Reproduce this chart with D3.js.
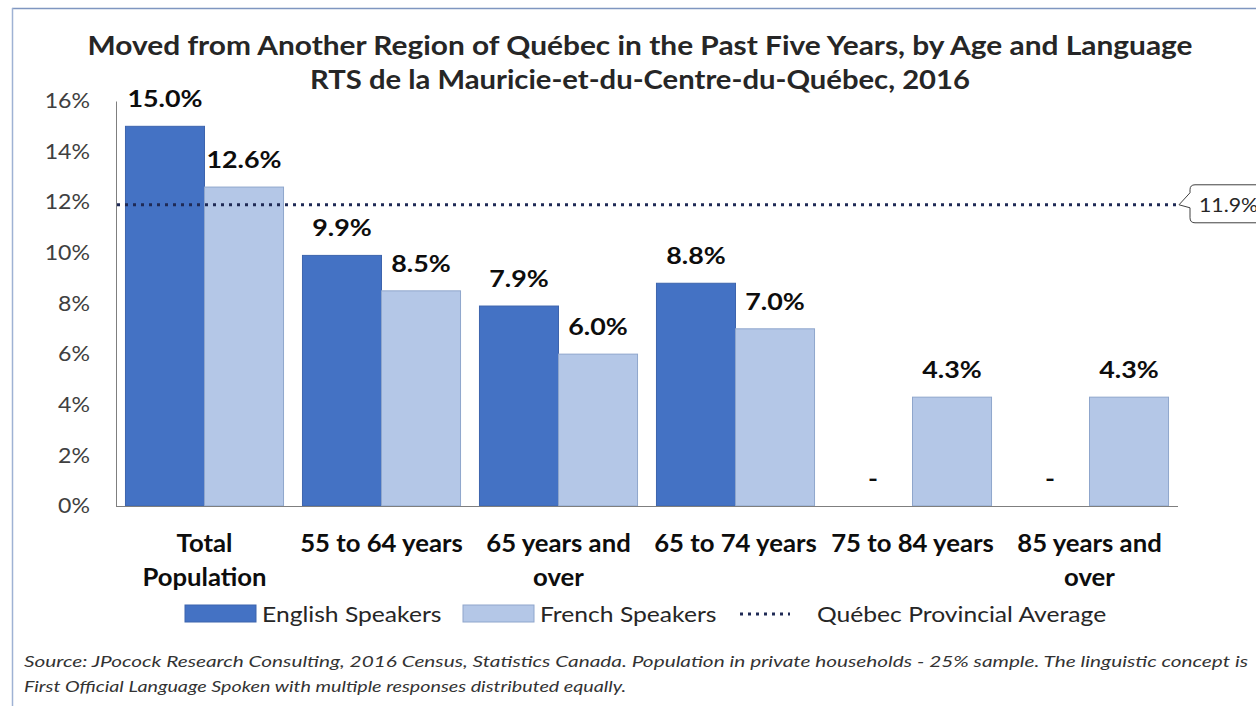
<!DOCTYPE html>
<html>
<head>
<meta charset="utf-8">
<script src="https://cdn.jsdelivr.net/npm/d3@7"></script>
<style>
  body { margin: 0; background: #fff; }
  svg { display: block; }
</style>
</head>
<body>
<svg id="chart" width="1256" height="706"></svg>
<script>
// chart values
let categories = ['Total Population', '55 to 64 years', '65 years and over', '65 to 74 years', '75 to 84 years', '85 years and over'];
let categoryLines = [['Total', 'Population'], ['55 to 64 years'], ['65 years and', 'over'], ['65 to 74 years'], ['75 to 84 years'], ['85 years and', 'over']];
let series = ['English Speakers', 'French Speakers'];
let english = [0.150, 0.099, 0.079, 0.088, null, null];
let french = [0.126, 0.085, 0.060, 0.070, 0.043, 0.043];
let provincialAvg = 0.119;
let yTicks = [0, 0.02, 0.04, 0.06, 0.08, 0.10, 0.12, 0.14, 0.16];

let svg = d3.select('#chart');
let font = 'Lato, "Open Sans", sans-serif';
let colors = ['#4472C4', '#B4C7E7'];
let strokes = ['#3d64ad', '#8fa6cc'];

// the source picture uses a wider face, so widen text a little
function stretch(sel, k) {
  sel.each(function() {
    let w = this.getComputedTextLength();
    d3.select(this).attr('textLength', w * k).attr('lengthAdjust', 'spacingAndGlyphs');
  });
}

// frame of the pasted picture
svg.append('line').attr('x1', 12).attr('x2', 1256).attr('y1', 8.5).attr('y2', 8.5)
  .attr('stroke', '#7f96c0').attr('stroke-width', 1.5);
svg.append('line').attr('x1', 12.5).attr('x2', 12.5).attr('y1', 8).attr('y2', 706)
  .attr('stroke', '#9fb2d4').attr('stroke-width', 1.5);

// title
let title = svg.append('g').style('font-family', font).style('font-weight', 'bold')
  .style('fill', '#262626').attr('text-anchor', 'middle');
title.append('text').attr('x', 640).attr('y', 55).style('font-size', '26px')
  .attr('textLength', 1105).attr('lengthAdjust', 'spacingAndGlyphs')
  .text('Moved from Another Region of Québec in the Past Five Years, by Age and Language');
title.append('text').attr('x', 640).attr('y', 89).style('font-size', '26px')
  .attr('textLength', 660).attr('lengthAdjust', 'spacingAndGlyphs')
  .text('RTS de la Mauricie-et-du-Centre-du-Québec, 2016');

let x0 = d3.scaleBand().domain(categories).range([116, 1178])
  .paddingInner(0.107).paddingOuter(0.0535);
let x1 = d3.scaleBand().domain(series).range([0, x0.bandwidth()]);
let y = d3.scaleLinear().domain([0, 0.16]).range([506, 101]);

// y axis
let yAxis = svg.append('g').attr('transform', 'translate(116,0)')
  .call(d3.axisLeft(y).tickValues(yTicks).tickFormat(d3.format('.0%')).tickSize(0).tickPadding(26));
yAxis.select('.domain').attr('stroke', '#7f7f7f');
yAxis.selectAll('text').style('font-family', font).style('font-size', '21px').style('fill', '#404040')
  .call(stretch, 1.1);

let rows = categories.map(function(c, i) {
  return { cat: c, values: [english[i], french[i]] };
});

let groups = svg.selectAll('.grp').data(rows).enter().append('g')
  .attr('class', 'grp')
  .attr('transform', function(d) { return 'translate(' + x0(d.cat) + ',0)'; });

groups.selectAll('rect').data(function(d) {
  return d.values.map(function(v, k) { return { s: series[k], k: k, v: v }; });
}).enter().filter(function(d) { return d.v != null; }).append('rect')
  .attr('x', function(d) { return x1(d.s); })
  .attr('width', x1.bandwidth())
  .attr('y', function(d) { return y(d.v); })
  .attr('height', function(d) { return y(0) - y(d.v); })
  .attr('fill', function(d) { return colors[d.k]; })
  .attr('stroke', function(d) { return strokes[d.k]; })
  .attr('stroke-width', 1);

groups.selectAll('.lbl').data(function(d) {
  return d.values.map(function(v, k) { return { s: series[k], k: k, v: v }; });
}).enter().append('text')
  .attr('class', 'lbl')
  .attr('x', function(d) { return x1(d.s) + x1.bandwidth() / 2; })
  .attr('y', function(d) { return y(d.v == null ? 0 : d.v) - 19; })
  .attr('text-anchor', 'middle')
  .style('font-family', font).style('font-weight', 'bold').style('font-size', '22px')
  .style('fill', '#0d0d0d')
  .text(function(d) { return d.v == null ? '-' : d3.format('.1%')(d.v); })
  .call(stretch, 1.22);

// x axis baseline
svg.append('line').attr('x1', 116).attr('x2', 1178).attr('y1', y(0) + 0.5).attr('y2', y(0) + 0.5)
  .attr('stroke', '#7f7f7f');

// category labels
svg.selectAll('.cat').data(categories).enter().append('text')
  .attr('class', 'cat')
  .attr('text-anchor', 'middle')
  .style('font-family', font).style('font-weight', 'bold').style('font-size', '24px')
  .style('fill', '#0d0d0d')
  .each(function(c, i) {
    let t = d3.select(this);
    categoryLines[i].forEach(function(line, j) {
      t.append('tspan').attr('x', x0(c) + x0.bandwidth() / 2).attr('y', 552 + j * 34).text(line);
    });
  });
svg.selectAll('.cat tspan').call(stretch, 1.07);

// provincial average
let avgY = y(provincialAvg);
svg.append('line').attr('x1', 117).attr('x2', 1176).attr('y1', avgY).attr('y2', avgY)
  .attr('stroke', '#1f2a55').attr('stroke-width', 3).attr('stroke-dasharray', '3,5');

let tipX = 1179;
svg.append('path')
  .attr('d', 'M' + tipX + ',' + avgY + ' L1190,' + (avgY - 12) + ' L1190,' + (avgY - 15) +
    ' Q1190,' + (avgY - 20) + ' 1195,' + (avgY - 20) + ' L1270,' + (avgY - 20) +
    ' L1270,' + (avgY + 18) + ' L1195,' + (avgY + 18) + ' Q1190,' + (avgY + 18) + ' 1190,' + (avgY + 13) +
    ' L1190,' + (avgY + 3) + ' Z')
  .attr('fill', '#fff').attr('stroke', '#404040').attr('stroke-width', 1);
svg.append('text').attr('x', 1199).attr('y', avgY + 7)
  .style('font-family', font).style('font-size', '19px').style('fill', '#262626')
  .text(d3.format('.1%')(provincialAvg))
  .call(stretch, 1.12);

// legend
let legend = svg.append('g').style('font-family', font).style('font-size', '22px').style('fill', '#262626');
let legendItems = [
  { name: series[0], x: 185, tx: 262, type: 0 },
  { name: series[1], x: 463, tx: 540, type: 1 },
  { name: 'Québec Provincial Average', x: 740, tx: 817, type: 2 }
];
legendItems.forEach(function(it) {
  if (it.type < 2) {
    legend.append('rect').attr('x', it.x).attr('y', 605).attr('width', 71).attr('height', 17)
      .attr('fill', colors[it.type]).attr('stroke', strokes[it.type]);
  } else {
    legend.append('line').attr('x1', it.x).attr('x2', it.x + 50).attr('y1', 614).attr('y2', 614)
      .attr('stroke', '#1f2a55').attr('stroke-width', 3).attr('stroke-dasharray', '3,5');
  }
  legend.append('text').attr('x', it.tx).attr('y', 622).text(it.name);
});
legend.selectAll('text').call(stretch, 1.12);

// source note
let note = svg.append('g').style('font-family', font).style('font-style', 'italic')
  .style('font-size', '16px').style('fill', '#333');
note.append('text').attr('x', 24).attr('y', 667).attr('textLength', 1224).attr('lengthAdjust', 'spacingAndGlyphs')
  .text('Source: JPocock Research Consulting, 2016 Census, Statistics Canada. Population in private households - 25% sample. The linguistic concept is');
note.append('text').attr('x', 24).attr('y', 692).attr('textLength', 602).attr('lengthAdjust', 'spacingAndGlyphs')
  .text('First Official Language Spoken with multiple responses distributed equally.');
</script>
</body>
</html>
